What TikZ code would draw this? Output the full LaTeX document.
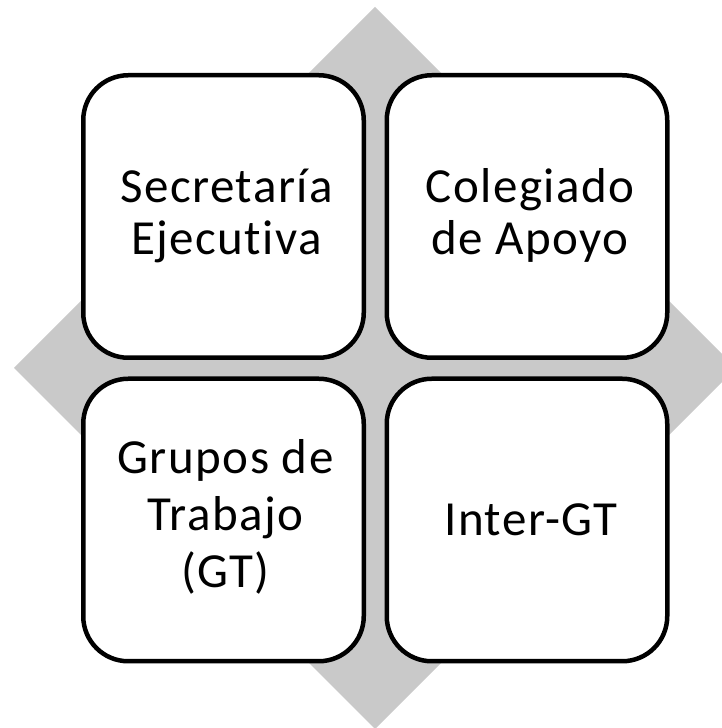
\documentclass[tikz,border=0pt]{standalone}
\usepackage{fontspec}
\setmainfont[Ligatures=NoCommon,LetterSpace=3]{Carlito}
\definecolor{diamondgray}{RGB}{201,201,201}
\begin{document}
\begin{tikzpicture}[x=1pt,y=1pt,
  cell/.style={draw=black, line width=4.5pt, fill=white, rounded corners=45pt,
    minimum width=280.5pt, minimum height=282.5pt, inner sep=0pt},
  celltext/.style={inner sep=0pt, align=center, font=\fontsize{49}{52}\selectfont}]
\useasboundingbox (0,0) rectangle (722,728);
\clip (0,0) rectangle (722,728);
\fill[diamondgray] (375,721) -- (14,360) -- (375,-1) -- (736,360) -- cycle;
\node[cell] (se) at (223.5,511.5) {};
\node[cell] (ca) at (527,511.5) {};
\node[cell] (gt) at (223.5,208) {};
\node[cell] (ig) at (527,208) {};
\node[celltext] (set) at ([xshift=3pt,yshift=1pt]se.center) {Secretaría\\Ejecutiva};
\node[celltext] (cat) at ([xshift=3pt,yshift=1pt]ca.center) {Colegiado\\de Apoyo};
\node[celltext, font=\fontsize{49}{57}\selectfont] (gtt) at ([xshift=2pt,yshift=3pt]gt.center) {Grupos de\\Trabajo\\(GT)};
\node[celltext] (igt) at ([xshift=4pt]ig.center) {Inter-GT};
\end{tikzpicture}
\end{document}
